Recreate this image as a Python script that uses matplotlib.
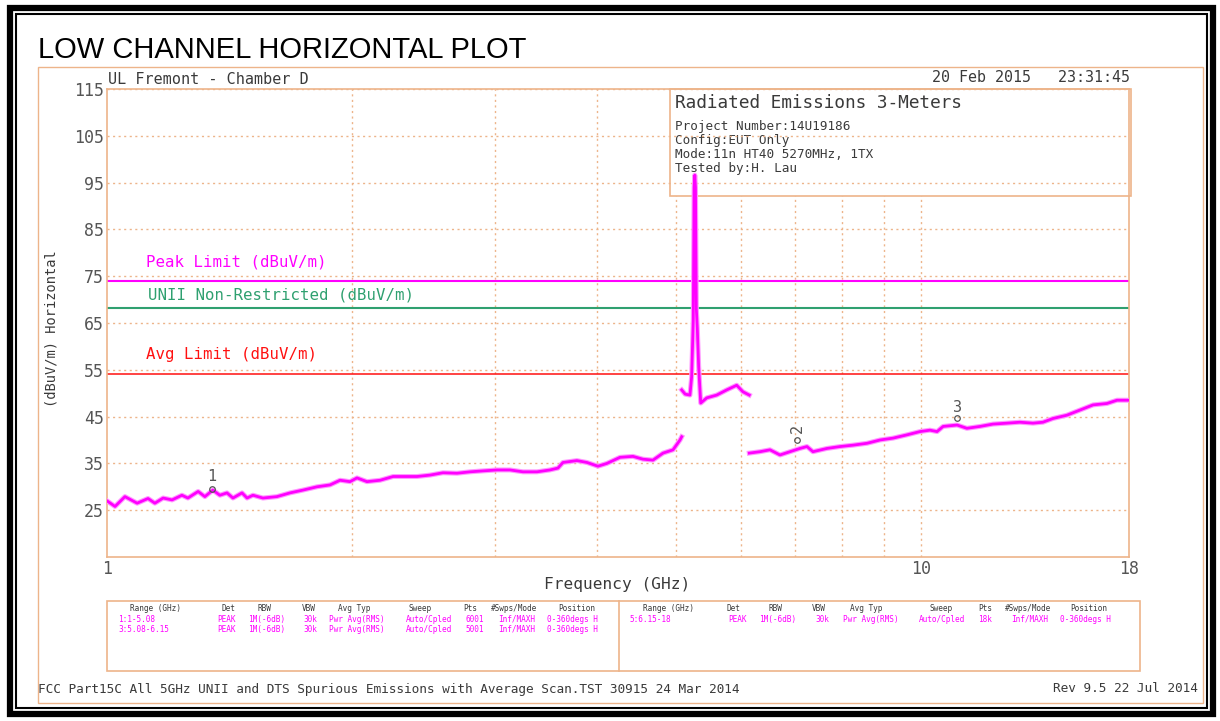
import matplotlib
matplotlib.use("Agg")
import matplotlib.pyplot as plt
from matplotlib.patches import Rectangle

# ---------------- data ----------------
seg1_freq = [1.0, 1.023, 1.052, 1.089, 1.123, 1.145, 1.172, 1.202, 1.236, 1.257,
             1.294, 1.319, 1.349, 1.376, 1.404, 1.428, 1.465, 1.486, 1.511, 1.554,
             1.617, 1.678, 1.741, 1.811, 1.879, 1.933, 1.988, 2.028, 2.086, 2.165,
             2.246, 2.291, 2.403, 2.493, 2.586, 2.691, 2.792, 2.896, 3.013, 3.126,
             3.243, 3.374, 3.500, 3.580, 3.631, 3.777, 3.886, 4.009, 4.112, 4.267,
             4.426, 4.553, 4.684, 4.819, 4.957, 5.056, 5.08]
seg1_level = [27.0, 25.8, 27.9, 26.5, 27.5, 26.5, 27.6, 27.2, 28.2, 27.6,
              29.0, 27.9, 29.3, 28.2, 28.7, 27.6, 28.7, 27.6, 28.2, 27.6,
              27.9, 28.7, 29.3, 30.0, 30.4, 31.4, 31.1, 31.9, 31.1, 31.4,
              32.2, 32.2, 32.2, 32.5, 33.0, 32.9, 33.2, 33.4, 33.6, 33.6,
              33.2, 33.2, 33.6, 34.0, 35.2, 35.6, 35.2, 34.4, 35.0, 36.3,
              36.5, 35.9, 35.7, 37.2, 37.9, 40.0, 40.7]

seg2_freq = [5.08, 5.13, 5.20, 5.225, 5.249, 5.262, 5.272, 5.282, 5.295, 5.309,
             5.330, 5.361, 5.453, 5.609, 5.770, 5.935, 6.041, 6.15]
seg2_level = [50.7, 49.8, 49.6, 53.5, 65.6, 94.0, 96.6, 94.0, 68.0, 64.0,
              55.6, 47.9, 49.0, 49.6, 50.7, 51.7, 50.3, 49.6]

seg3_freq = [6.15, 6.339, 6.521, 6.708, 6.900, 7.098, 7.240, 7.364, 7.662, 7.950,
             8.249, 8.582, 8.901, 9.235, 9.607, 9.965, 10.25, 10.46, 10.64, 11.07,
             11.38, 11.81, 12.25, 12.75, 13.22, 13.72, 14.11, 14.52, 15.10, 15.67,
             16.26, 16.91, 17.40, 18.0]
seg3_level = [37.2, 37.5, 37.9, 36.8, 37.5, 38.2, 38.6, 37.5, 38.2, 38.6,
              38.9, 39.3, 40.0, 40.4, 41.1, 41.8, 42.1, 41.8, 42.9, 43.2,
              42.5, 42.9, 43.4, 43.6, 43.8, 43.6, 43.8, 44.6, 45.3, 46.4,
              47.5, 47.8, 48.5, 48.5]

marker_freq = [1.345, 7.04, 11.07]
marker_level = [29.5, 40.0, 44.6]
marker_labels = ["1", "2", "3"]

limit_names = ["Peak Limit (dBuV/m)", "UNII Non-Restricted (dBuV/m)", "Avg Limit (dBuV/m)"]
limit_values = [74.0, 68.2, 54.0]

y_ticks = [25, 35, 45, 55, 65, 75, 85, 95, 105, 115]
x_ticks = [1, 10, 18]
x_tick_labels = ["1", "10", "18"]
x_grid = [2, 3, 4, 5, 6, 7, 8, 9, 10]

title = "LOW CHANNEL HORIZONTAL PLOT"
site = "UL Fremont - Chamber D"
stamp = "20 Feb 2015   23:31:45"
info_title = "Radiated Emissions 3-Meters"
info_lines = ["Project Number:14U19186", "Config:EUT Only",
              "Mode:11n HT40 5270MHz, 1TX", "Tested by:H. Lau"]
footer_left = "FCC Part15C All 5GHz UNII and DTS Spurious Emissions with Average Scan.TST 30915 24 Mar 2014"
footer_right = "Rev 9.5 22 Jul 2014"

table_header = ["Range (GHz)", "Det", "RBW", "VBW", "Avg Typ", "Sweep", "Pts", "#Swps/Mode", "Position"]
table_rows_left = [["1:1-5.08", "PEAK", "1M(-6dB)", "30k", "Pwr Avg(RMS)", "Auto/Cpled", "6001", "Inf/MAXH", "0-360degs H"],
                   ["3:5.08-6.15", "PEAK", "1M(-6dB)", "30k", "Pwr Avg(RMS)", "Auto/Cpled", "5001", "Inf/MAXH", "0-360degs H"]]
table_rows_right = [["5:6.15-18", "PEAK", "1M(-6dB)", "30k", "Pwr Avg(RMS)", "Auto/Cpled", "18k", "Inf/MAXH", "0-360degs H"]]

# ---------------- style ----------------
W, H = 1220, 721
ORANGE = "#EDB48A"
MAG = "#FF00FF"
GREEN = "#2FA070"
RED = "#FF1010"
TXT = "#3a3a3a"
MONO = "DejaVu Sans Mono"

fig = plt.figure(figsize=(W / 100, H / 100), dpi=100)
bg = fig.add_axes([0, 0, 1, 1])
bg.set_xlim(0, W)
bg.set_ylim(H, 0)
bg.axis("off")

# black double border
bg.add_patch(Rectangle((10, 8), 1203, 706, fill=False, ec="black", lw=4.5))
bg.add_patch(Rectangle((16, 14), 1191, 694, fill=False, ec="black", lw=1.5))
# orange outer frame
bg.add_patch(Rectangle((38, 67), 1165, 636, fill=False, ec=ORANGE, lw=1))
# table box
bg.add_patch(Rectangle((107, 601), 1033, 70, fill=False, ec=ORANGE, lw=1.2))
bg.plot([619, 619], [601, 671], color=ORANGE, lw=1.2)

bg.text(38, 50, title, fontsize=21, family="Liberation Sans", color="black", va="center", ha="left")
bg.text(108, 79, site, fontsize=10.9, family=MONO, color=TXT, va="center")
bg.text(1130, 78, stamp, fontsize=10.8, family=MONO, color=TXT, va="center", ha="right")
bg.text(52, 329, "(dBuV/m) Horizontal", fontsize=9.9, family=MONO, color=TXT,
        rotation=90, va="center", ha="center")
bg.text(617, 585, "Frequency (GHz)", fontsize=11.6, family=MONO, color=TXT, va="center", ha="center")
bg.text(38, 689, footer_left, fontsize=9.2, family=MONO, color=TXT, va="center", ha="left")
bg.text(1198, 689, footer_right, fontsize=9.2, family=MONO, color=TXT, va="center", ha="right")

# table text (baseline-aligned)
hdr_centers_l = [155, 228, 264, 309, 354, 420, 470, 514, 577]
row_lefts_l = [118, 217, 248, 303, 329, 406, 465, 498, 547]
hdr_centers_r = [668, 733, 775, 819, 866, 941, 985, 1028, 1089]
row_lefts_r = [629, 728, 759, 815, 843, 919, 978, 1011, 1060]
for centers in (hdr_centers_l, hdr_centers_r):
    for hx, h in zip(centers, table_header):
        bg.text(hx, 611, h, fontsize=5.6, family=MONO, color=TXT, ha="center", va="baseline")
for lefts, rows in ((row_lefts_l, table_rows_left), (row_lefts_r, table_rows_right)):
    for ri, row in enumerate(rows):
        for rx, s in zip(lefts, row):
            bg.text(rx, 622 + ri * 10, s, fontsize=5.6, family=MONO, color=MAG,
                    ha="left", va="baseline")

# ---------------- data axes ----------------
L, R, T, B = 107, 1129, 89, 557
ax = fig.add_axes([L / W, 1 - B / H, (R - L) / W, (B - T) / H])
ax.patch.set_alpha(0)
ax.set_xscale("log")
for sp in ax.spines.values():
    sp.set_color(ORANGE)
    sp.set_linewidth(1.2)
ax.set_yticks(y_ticks)
ax.set_yticklabels([str(v) for v in y_ticks])
ax.set_xticks(x_ticks)
ax.set_xticklabels(x_tick_labels)
ax.xaxis.set_minor_locator(matplotlib.ticker.NullLocator())
ax.tick_params(axis="both", length=0, labelsize=12, labelcolor="#555555")
ax.tick_params(axis="y", pad=2)
ax.tick_params(axis="x", pad=2)
for lab in ax.get_xticklabels() + ax.get_yticklabels():
    lab.set_family(MONO)
ax.yaxis.grid(True, color=ORANGE, linestyle=(0, (1.5, 2.5)), lw=1)
for g in x_grid:
    ax.axvline(g, color=ORANGE, linestyle=(0, (1.5, 2.5)), lw=1, zorder=0.5)

# info box (covers grid, under trace)
ax.add_patch(Rectangle((670, 89), 461, 107, transform=bg.transData, fc="white",
                       ec=ORANGE, lw=1.2, zorder=1, clip_on=False))
ax.text(675, 103, info_title, transform=bg.transData, fontsize=12.8, family=MONO,
        color=TXT, va="center", ha="left", zorder=1.5, clip_on=False)
for i, s in enumerate(info_lines):
    ax.text(675, 126.5 + i * 14, s, transform=bg.transData, fontsize=9.05, family=MONO,
            color=TXT, va="center", ha="left", zorder=1.5, clip_on=False)

# limit lines
limit_colors = [MAG, GREEN, RED]
limit_lws = [1.5, 1.5, 1.1]
label_pos = [(146, 262), (148, 295), (146, 354)]
for name, v, c, lw, (px, py) in zip(limit_names, limit_values, limit_colors, limit_lws, label_pos):
    ax.axhline(v, color=c, lw=lw, zorder=2)
    ax.text(px, py, name, transform=bg.transData, fontsize=11.3, family=MONO,
            color=c, va="center", ha="left", zorder=3)

# trace
for fx, lv in [(seg1_freq, seg1_level), (seg2_freq, seg2_level), (seg3_freq, seg3_level)]:
    ax.plot(fx, lv, color="#FF99FF", lw=3.6, zorder=3, solid_joinstyle="round")
    ax.plot(fx, lv, color=MAG, lw=2.0, zorder=3.1, solid_joinstyle="round")

# markers
label_offsets = [2.8, 2.5, 2.3]
label_rot = [0, 90, 0]
for f, lv, lab, off, rot in zip(marker_freq, marker_level, marker_labels, label_offsets, label_rot):
    ax.plot([f], [lv], marker="o", ms=4, mfc="none", mec="#555555", mew=0.9, zorder=4)
    ax.text(f, lv + off, lab, fontsize=11, family=MONO, color="#555555",
            ha="center", va="center", rotation=rot, zorder=4)

ax.set_xlim(1, 18)
ax.set_ylim(15, 115)

fig.savefig("out.png", dpi=100)
